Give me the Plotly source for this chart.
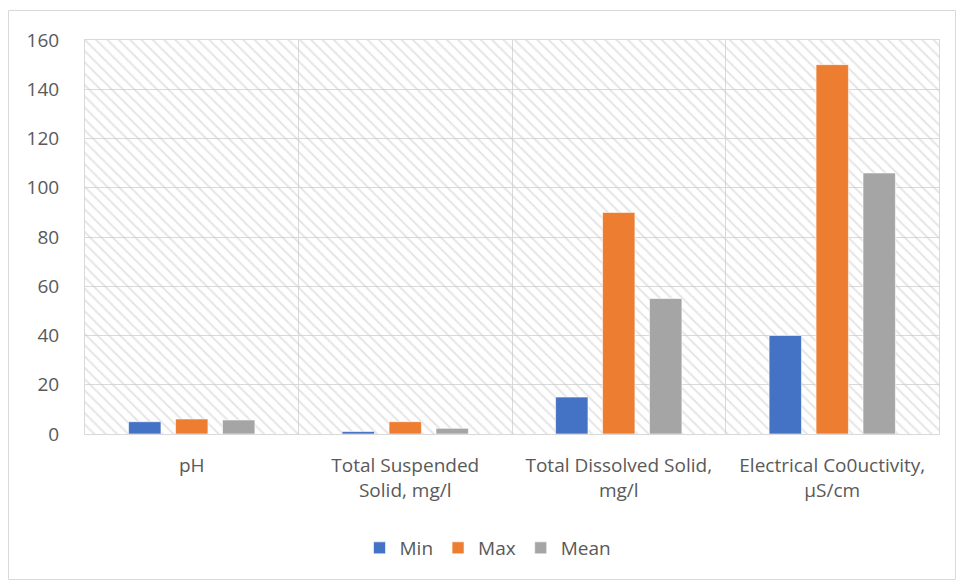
import plotly.graph_objects as go

categories = ["pH", "Total Suspended<br>Solid, mg/l", "Total Dissolved Solid,<br>mg/l",
              "Electrical Co0uctivity,<br>µS/cm"]
min_vals = [5.0, 1.0, 15, 40]
max_vals = [6.1, 5.0, 90, 150]
mean_vals = [5.7, 2.3, 55, 106]
y_ticks = [0, 20, 40, 60, 80, 100, 120, 140, 160]

W, H = 956, 581
L, R, T, B = 85, 17, 40, 147
pw, ph = W - L - R, H - T - B
FONT = "Open Sans, Lato, Liberation Sans, sans-serif"
FS = 19
TXT = "#595959"
GRID = "#d9d9d9"

fig = go.Figure()

# hatched plot-area background on hidden base axes
fig.add_trace(go.Scatter(
    x=[0, 1, 1, 0, 0], y=[0, 0, 1, 1, 0], xaxis="x", yaxis="y",
    mode="lines", line=dict(width=0), fill="toself", fillcolor="rgba(0,0,0,0)",
    fillpattern=dict(shape="\\", fgcolor="#cccccc", bgcolor="rgba(0,0,0,0)", size=8, solidity=0.25),
    hoverinfo="skip", showlegend=False,
))

series = [("Min", min_vals, "#4472C4"), ("Max", max_vals, "#ED7D31"), ("Mean", mean_vals, "#A5A5A5")]
for name, vals, color in series:
    fig.add_trace(go.Bar(
        x=categories, y=vals, name=name, xaxis="x2", yaxis="y2",
        marker=dict(color=color, line=dict(color="rgba(255,255,255,0.6)", width=1)),
    ))

def px_x(p):
    return (p - L) / pw

def px_y(p):
    return (H - B - p) / ph

fig.update_layout(
    width=W, height=H,
    margin=dict(l=L, r=R, t=T, b=B),
    paper_bgcolor="white", plot_bgcolor="white",
    font=dict(family=FONT, size=FS, color=TXT),
    barmode="group", bargap=0.34, bargroupgap=0.31,
    xaxis=dict(range=[0, 1], visible=False, fixedrange=True, showgrid=False, zeroline=False),
    yaxis=dict(range=[0, 1], visible=False, fixedrange=True, showgrid=False, zeroline=False),
    xaxis2=dict(
        overlaying="x", type="category", tickson="boundaries", showgrid=True,
        gridcolor=GRID, gridwidth=1,
        showline=True, linecolor=GRID, linewidth=1, mirror=True,
        ticks="", tickfont=dict(family=FONT, size=FS, color=TXT), ticklabelstandoff=14,
    ),
    yaxis2=dict(
        overlaying="y", range=[0, 160], tickvals=y_ticks, showgrid=True,
        gridcolor=GRID, gridwidth=1,
        showline=True, linecolor=GRID, linewidth=1, mirror=True, zeroline=False,
        ticks="", tickfont=dict(family=FONT, size=FS, color=TXT), ticklabelstandoff=21,
    ),
    legend=dict(
        orientation="h", x=px_x(488), xanchor="center", y=px_y(548), yanchor="middle",
        font=dict(family=FONT, size=FS, color=TXT), traceorder="normal", itemwidth=30,
    ),
    shapes=[dict(
        type="rect", xref="paper", yref="paper",
        x0=px_x(8.5), x1=px_x(955.5), y0=px_y(579.5), y1=px_y(10.5),
        line=dict(color=GRID, width=1), layer="below",
    )],
)

fig.write_html("out.html")
